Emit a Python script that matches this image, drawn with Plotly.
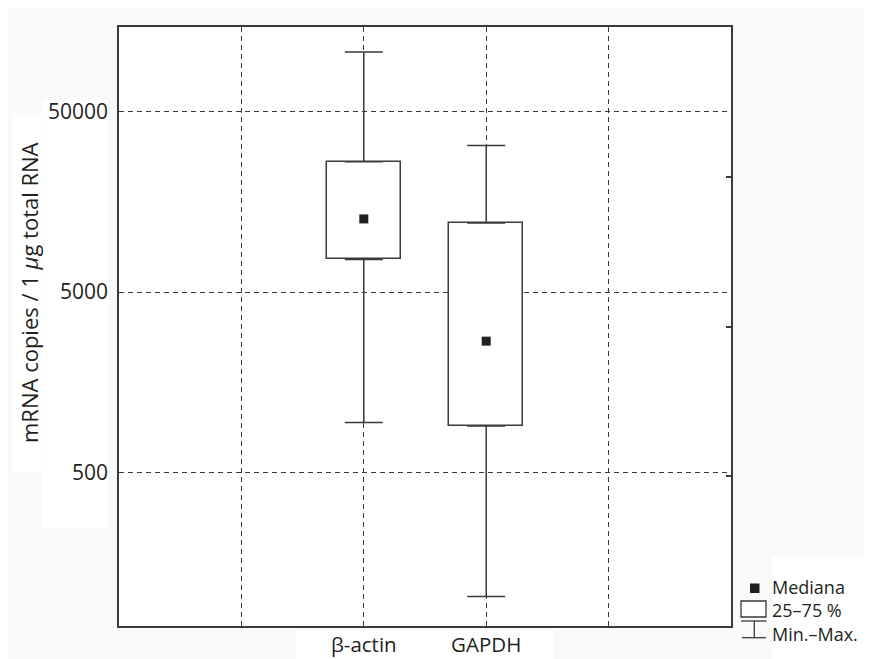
import plotly.graph_objects as go

# ---- data ----
slot_labels = ["", "β-actin", "GAPDH", ""]
categories = ["β-actin", "GAPDH"]
minimum = [945, 102]
q1 = [7585, 901]
median = [12740, 2670]
q3 = [26500, 12100]
maximum = [107600, 32550]
y_tickvals = [500, 5000, 50000]
y_ticktext = ["500", "5000", "50000"]
legend_labels = ["Mediana", "25–75 %", "Min.–Max."]

positions = [slot_labels.index(c) for c in categories]

LINE = "#3a3a3a"
FONT = "Open Sans"

OFF = 8  # page body margin
W, H = 864, 651
ML, MR, MT, MB = 111, 141, 19, 33
PW = W - ML - MR
PH = H - MT - MB


def px(x):  # page pixel -> paper
    return (x - OFF - ML) / PW


def py(y):
    return (H - MB - (y - OFF)) / PH


fig = go.Figure()

# box (25-75 %)
fig.add_trace(go.Bar(
    x=positions, y=[b - a for a, b in zip(q1, q3)], base=q1, width=0.605,
    marker=dict(color="white", line=dict(color=LINE, width=1.5)),
    showlegend=False, hoverinfo="skip"))

# upper whiskers
fig.add_trace(go.Scatter(
    x=positions, y=q3, mode="markers", marker=dict(size=1, opacity=0),
    error_y=dict(type="data", symmetric=False,
                 array=[m - b for b, m in zip(q3, maximum)],
                 arrayminus=[0] * len(q3), width=19, thickness=1.5, color=LINE),
    showlegend=False, hoverinfo="skip"))

# lower whiskers
fig.add_trace(go.Scatter(
    x=positions, y=q1, mode="markers", marker=dict(size=1, opacity=0),
    error_y=dict(type="data", symmetric=False,
                 array=[0] * len(q1),
                 arrayminus=[a - m for a, m in zip(q1, minimum)],
                 width=19, thickness=1.5, color=LINE),
    showlegend=False, hoverinfo="skip"))

# medians
fig.add_trace(go.Scatter(
    x=positions, y=median, mode="markers",
    marker=dict(symbol="square", size=9, color="#231f20"),
    showlegend=False))

# dummy trace for right-side tick axis
fig.add_trace(go.Scatter(x=[], y=[], yaxis="y2", showlegend=False))

shapes = []


def white_box(x0, y0, x1, y1):
    shapes.append(dict(type="rect", xref="paper", yref="paper",
                       x0=px(x0), x1=px(x1), y0=py(y0), y1=py(y1),
                       fillcolor="white", line=dict(width=0), layer="below"))


white_box(11.7, 113.3, 41.7, 471.7)
white_box(42, 100, 108.5, 528)
white_box(296, 630.7, 553, 672)
white_box(772.7, 556, 880, 672)

# legend symbols
shapes.append(dict(type="rect", xref="paper", yref="paper",
                   x0=px(750), x1=px(759.5), y0=py(583.5), y1=py(593),
                   fillcolor="#231f20", line=dict(width=0)))
shapes.append(dict(type="rect", xref="paper", yref="paper",
                   x0=px(741), x1=px(766), y0=py(601), y1=py(617),
                   fillcolor="white", line=dict(color=LINE, width=1.3)))
for (x0, y0, x1, y1) in [(741, 621, 766.5, 621), (754.3, 621, 754.3, 637.7),
                         (742, 637.7, 766, 637.7)]:
    shapes.append(dict(type="line", xref="paper", yref="paper",
                       x0=px(x0), x1=px(x1), y0=py(y0), y1=py(y1),
                       line=dict(color=LINE, width=1.3)))

annotations = [
    dict(text="mRNA copies / 1 <i>μ</i>g total RNA", xref="paper", yref="paper",
         x=px(29), y=py(293), textangle=-90, showarrow=False,
         xanchor="center", yanchor="middle",
         font=dict(family=FONT, size=22, color="#231f20")),
    dict(text="<br>".join(legend_labels), xref="paper", yref="paper",
         x=px(771), y=py(610), showarrow=False, align="left",
         xanchor="left", yanchor="middle", borderpad=0,
         font=dict(family=FONT, size=18, color="#231f20")),
]

fig.update_layout(
    template="none",
    width=W, height=H, autosize=False,
    margin=dict(l=ML, r=MR, t=MT, b=MB, pad=0),
    paper_bgcolor="#f9f9f9", plot_bgcolor="white",
    font=dict(family=FONT, size=21, color="#231f20"),
    shapes=shapes, annotations=annotations,
    bargap=0, showlegend=False,
    xaxis=dict(range=[-1, 4], tickvals=list(range(len(slot_labels))),
               ticktext=slot_labels, showgrid=True, gridcolor=LINE,
               gridwidth=1.2, griddash="5px,4px", zeroline=False,
               showline=True, mirror=True, linecolor=LINE, linewidth=1.5,
               ticks="", automargin=False, ticklabelstandoff=0,
               tickfont=dict(size=20.5)),
    yaxis=dict(type="log", range=[1.845, 5.1707], tickvals=y_tickvals,
               ticktext=y_ticktext, showgrid=True, gridcolor=LINE,
               gridwidth=1.2, griddash="5px,4px", zeroline=False,
               showline=True, mirror=True, linecolor=LINE, linewidth=1.5,
               ticks="", automargin=False, ticklabelstandoff=5,
               tickfont=dict(size=21)),
    yaxis2=dict(overlaying="y", side="right", range=[0, 4],
                tickvals=[1, 2, 3], ticks="inside", ticklen=5,
                tickcolor=LINE, tickwidth=1.5, showticklabels=False,
                showgrid=False, zeroline=False, showline=False,
                automargin=False),
)

fig.write_html("out.html")
